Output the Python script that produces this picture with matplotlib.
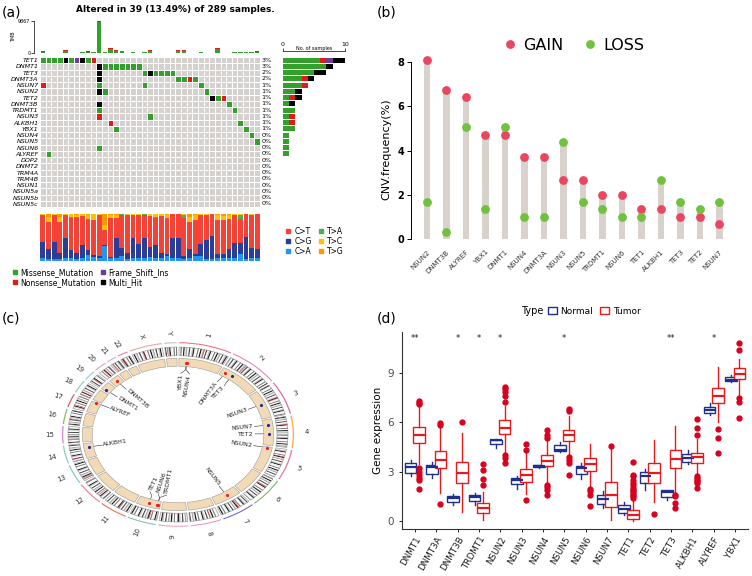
import math

import matplotlib

matplotlib.use("Agg")
import matplotlib.pyplot as plt
from matplotlib.colors import ListedColormap
from matplotlib.lines import Line2D
from matplotlib.patches import Patch, Wedge
import numpy as np

W, H = 752, 576

# ---------------- panel (a): oncoplot ----------------
onco_genes = ["TET1", "DNMT1", "TET3", "DNMT3A", "NSUN7", "NSUN2", "TET2", "DNMT3B",
              "TRDMT1", "NSUN3", "ALKBH1", "YBX1", "NSUN4", "NSUN5", "NSUN6", "ALYREF",
              "DOP2", "DNMT2", "TRM4A", "TRM4B", "NSUN1", "NSUN5a", "NSUN5b", "NSUN5c"]
# one char per sample: . none, M missense, N nonsense, F frame shift ins, H multi hit
onco_rows = {
    "TET1": "MMMMHMFHMN",
    "DNMT1": "." * 10 + "HMMMMMMM",
    "TET3": "." * 10 + "H" + "." * 7 + "MHMMMM",
    "DNMT3A": "." * 10 + "H" + "." * 13 + "MMNM",
    "NSUN7": "N" + "." * 9 + "M" + "." * 7 + "M" + "." * 9 + "M",
    "NSUN2": "." * 10 + "HM" + "." * 17 + "M",
    "TET2": "." * 30 + "HMN",
    "DNMT3B": "." * 10 + "H" + "." * 22 + "M",
    "TRDMT1": "." * 10 + "M" + "." * 23 + "M",
    "NSUN3": "." * 10 + "N" + "." * 8 + "M",
    "ALKBH1": "." * 12 + "N" + "." * 22 + "M",
    "YBX1": "." * 13 + "M" + "." * 22 + "M",
    "NSUN4": "." * 37 + "M",
    "NSUN5": "." * 38 + "M",
    "NSUN6": "." * 10 + "M",
    "ALYREF": ".M",
}
n_samples = 39
n_total = 289

tmb_mis = [420, 100, 100, 100, 620, 100, 100, 310, 420, 200, 9560, 200, 1240, 730, 730,
           100, 200, 100, 310, 730, 100, 100, 100, 100, 730, 730, 100, 100, 210, 100,
           100, 1250, 100, 100, 210, 310, 310, 310, 420]
tmb_non = [100, 0, 0, 0, 210, 0, 0, 0, 100, 0, 307, 0, 200, 100, 0, 0, 0, 0, 100, 100,
           0, 0, 0, 0, 100, 100, 0, 0, 0, 0, 0, 200, 0, 0, 0, 0, 0, 0, 100]

# Ti/Tv fractions (%) per sample
titv_labels = ["C>T", "C>G", "C>A", "T>A", "T>C", "T>G"]
titv_CA = [7, 5, 5, 5, 7, 6, 5, 7, 12, 9, 7, 31, 6, 6, 11, 5, 7, 7, 7, 9, 6, 6, 11, 6, 6,
           4, 7, 11, 11, 5, 4, 7, 7, 7, 7, 14, 5, 6, 6]
titv_CG = [33, 20, 36, 11, 43, 18, 13, 27, 11, 4, 4, 3, 3, 43, 16, 13, 43, 29, 42, 20, 27,
           12, 4, 43, 43, 6, 18, 4, 25, 40, 49, 7, 7, 18, 31, 25, 46, 21, 20]
titv_CT = [58, 58, 57, 67, 47, 67, 76, 61, 67, 75, 87, 31, 82, 43, 71, 80, 47, 62, 49, 66,
           58, 77, 76, 51, 50, 81, 58, 72, 62, 53, 47, 73, 73, 65, 60, 51, 49, 71, 74]
titv_TA = [0, 0, 0, 0, 0, 2, 0, 0, 0, 0, 0, 0, 0, 0, 2, 0, 0, 0, 2, 0, 2, 0, 0, 0, 0, 7,
           0, 0, 0, 0, 0, 0, 0, 0, 0, 7, 0, 0, 0]
titv_TC = [2, 11, 2, 11, 3, 7, 4, 5, 7, 11, 2, 11, 7, 6, 0, 2, 3, 2, 0, 5, 7, 5, 7, 0, 1,
           2, 11, 11, 2, 2, 0, 11, 9, 7, 2, 3, 0, 2, 0]
titv_TG = [0, 6, 0, 6, 0, 0, 2, 0, 3, 1, 0, 24, 2, 2, 0, 0, 0, 0, 0, 0, 0, 0, 2, 0, 0, 0,
           6, 2, 0, 0, 0, 2, 4, 3, 0, 0, 0, 0, 0]

# ---------------- panel (b): CNV frequency ----------------
cnv_genes = ["NSUN2", "DNMT3B", "ALYREF", "YBX1", "DNMT1", "NSUN4", "DNMT3A", "NSUN3",
             "NSUN5", "TRDMT1", "NSUN6", "TET1", "ALKBH1", "TET3", "TET2", "NSUN7"]
cnv_gain = [8.07, 6.74, 6.40, 4.71, 4.71, 3.70, 3.70, 2.69, 2.69, 2.02, 2.02, 1.35, 1.35,
            1.01, 1.01, 0.67]
cnv_loss = [1.68, 0.34, 5.05, 1.35, 5.05, 1.01, 1.01, 4.38, 1.68, 1.35, 1.01, 1.01, 2.69,
            1.68, 1.35, 1.68]

# ---------------- panel (c): circos ----------------
chrom_names = [str(i) for i in range(1, 23)] + ["X", "Y"]
chrom_len = [249, 243, 198, 191, 181, 171, 159, 146, 141, 136, 135, 134, 115, 107, 103,
             90, 81, 78, 59, 63, 48, 51, 155, 59]
chrom_cen = [125, 93, 91, 50, 48, 60, 60, 45, 49, 40, 53, 35, 17, 17, 19, 36, 24, 17, 26,
             28, 13, 14, 60, 12]
chrom_col = ["#E8747C", "#E88CA5", "#D96BA8", "#F5B041", "#E17B9C", "#7DBE6A", "#6C6CC9",
             "#E89AB0", "#F2A3B7", "#76C3A8", "#E8734D", "#E8828C", "#7FC8C8", "#8BCFB8",
             "#D38CC9", "#86C06C", "#E06070", "#8ED0C0", "#9AC5E0", "#E5A0C0", "#C8B0E0",
             "#E88090", "#E8A0A8", "#C0C0C0"]
band_shades = ["#FFFFFF", "#7F7F7F", "#FFFFFF", "#1A1A1A", "#E3E3E3", "#A6A6A6",
               "#FFFFFF", "#4D4D4D", "#FFFFFF", "#C8C8C8", "#262626", "#F0F0F0"]
circ_genes = ["YBX1", "NSUN4", "DNMT3A", "TET3", "NSUN3", "NSUN7", "TET2", "NSUN2",
              "NSUN5", "TRDMT1", "NSUN6", "TET1", "ALKBH1", "ALYREF", "DNMT1", "DNMT3B"]
circ_chr = ["1", "1", "2", "2", "3", "4", "4", "5", "7", "10", "10", "10", "14", "17",
            "19", "20"]
circ_mb = [43.1, 46.8, 25.5, 74.3, 93.8, 40.8, 106.1, 6.6, 72.7, 17.2, 18.1, 70.3, 78.2,
           79.8, 10.2, 31.4]

# ---------------- panel (d): expression boxplots ----------------
expr_genes = ["DNMT1", "DNMT3A", "DNMT3B", "TRDMT1", "NSUN2", "NSUN3", "NSUN4", "NSUN5",
              "NSUN6", "NSUN7", "TET1", "TET2", "TET3", "ALKBH1", "ALYREF", "YBX1"]
# (median, q1, q3, whisker low, whisker high)
normal_stats = [(3.27, 2.92, 3.49, 2.72, 3.69), (3.29, 2.84, 3.39, 2.58, 3.59),
                (1.37, 1.17, 1.51, 0.97, 1.63), (1.47, 1.23, 1.57, 0.97, 1.67),
                (4.90, 4.66, 4.94, 4.44, 4.96), (2.48, 2.22, 2.58, 1.92, 2.72),
                (3.33, 3.25, 3.39, 3.22, 3.42), (4.29, 4.23, 4.60, 4.20, 4.80),
                (3.19, 2.85, 3.33, 2.55, 3.54), (1.33, 1.03, 1.58, 0.77, 1.82),
                (0.73, 0.50, 0.97, 0.36, 1.17), (2.72, 2.28, 2.98, 1.88, 3.18),
                (1.73, 1.47, 1.85, 1.27, 1.90), (3.85, 3.59, 4.09, 3.45, 4.33),
                (6.77, 6.57, 6.92, 6.47, 7.16), (8.55, 8.51, 8.75, 8.47, 8.91)]
tumor_stats = [(5.24, 4.76, 5.70, 3.45, 7.00), (3.69, 3.19, 4.23, 1.71, 5.75),
               (2.92, 2.32, 3.59, 0.56, 5.34), (0.77, 0.46, 1.11, 0.06, 1.75),
               (5.67, 5.30, 6.11, 4.19, 7.00), (2.78, 2.34, 3.13, 1.63, 4.13),
               (3.67, 3.33, 3.99, 2.38, 4.95), (5.20, 4.84, 5.54, 3.99, 6.41),
               (3.45, 3.05, 3.80, 2.00, 4.70), (1.58, 0.87, 2.34, 0.06, 4.40),
               (0.36, 0.12, 0.67, 0.00, 1.27), (2.94, 2.32, 3.49, 1.17, 4.94),
               (3.79, 3.22, 4.29, 1.67, 5.79), (3.89, 3.55, 4.15, 2.84, 5.00),
               (7.62, 7.18, 8.08, 6.00, 9.38), (8.97, 8.63, 9.29, 7.62, 9.85)]
tumor_fliers = [
    [7.1, 7.2, 7.3, 3.2, 3.0, 2.8, 2.6, 2.5, 1.95],
    [5.85, 5.95, 1.03],
    [5.99],
    [3.43, 3.08, 2.52, 2.18],
    [7.25, 7.6, 7.85, 8.0, 8.17, 4.0, 3.8, 3.5],
    [4.3, 4.7, 1.27],
    [5.05, 5.2, 5.55, 2.2, 2.05, 1.9, 1.6],
    [6.7, 6.8, 3.9, 3.7, 3.5, 2.8],
    [1.95, 1.8, 1.6, 0.9],
    [4.58],
    [1.4, 1.5, 1.6, 1.7, 1.8, 1.9, 2.0, 2.2, 2.3, 2.5, 2.7, 2.8, 3.6],
    [0.4],
    [1.6, 1.5, 1.1, 0.75],
    [5.2, 5.65, 6.19, 2.75, 2.6, 2.5, 2.4, 2.3, 1.97],
    [5.6, 5.06, 4.15],
    [10.4, 10.85, 7.5, 7.25, 6.27],
]
signif = ["**", "", "*", "*", "*", "", "", "*", "", "", "", "", "**", "", "*", ""]

GREEN, RED, PURPLE, BLACK, BG = "#33A02C", "#E31A1C", "#6A3D9A", "#000000", "#D4D1CF"
TITV_COL = ["#F44336", "#2B3D97", "#2196F3", "#4CAF50", "#FFC107", "#FF9800"]
GAIN_COL, LOSS_COL = "#E8475F", "#72C13E"
NORMAL_COL, TUMOR_COL = "#1F2F8F", "#E41A1C"

fig = plt.figure(figsize=(W / 100, H / 100), dpi=100)


def box(l, t, r, b):
    return fig.add_axes([l / W, 1 - b / H, (r - l) / W, (b - t) / H])


for lab, x, y in [("(a)", 2, 12), ("(b)", 377, 12), ("(c)", 2, 318), ("(d)", 377, 318)]:
    fig.text(x / W, 1 - y / H, lab, fontsize=10, va="center", ha="left")

# ---- (a) ----
fig.text(175 / W, 1 - 10 / H, "Altered in 39 (13.49%) of 289 samples.", fontsize=6.5,
         fontweight="bold", ha="center", va="center")

codes = {".": 0, "M": 1, "N": 2, "F": 3, "H": 4}
mat = np.zeros((len(onco_genes), n_samples))
for i, g in enumerate(onco_genes):
    s = onco_rows.get(g, "").ljust(n_samples, ".")
    mat[i] = [codes[c] for c in s]

ax_t = box(40, 21, 260, 53)
xs = np.arange(n_samples) + 0.5
ax_t.bar(xs, tmb_mis, width=0.8, color=GREEN)
ax_t.bar(xs, tmb_non, width=0.8, bottom=tmb_mis, color=RED)
ax_t.set_xlim(0, n_samples)
ax_t.set_ylim(0, 9867)
for sp in ["top", "right", "bottom"]:
    ax_t.spines[sp].set_visible(False)
ax_t.spines["left"].set_position(("outward", 4))
ax_t.spines["left"].set_linewidth(0.5)
ax_t.set_yticks([0, 9867])
ax_t.tick_params(axis="y", labelsize=3.5, length=2, width=0.5, pad=1)
ax_t.set_xticks([])
ax_t.set_ylabel("TMB", fontsize=3.5, labelpad=1)

ax_g = box(40, 57, 260, 207)
ax_g.pcolormesh(np.arange(n_samples + 1), np.arange(len(onco_genes) + 1), mat,
                cmap=ListedColormap([BG, GREEN, RED, PURPLE, BLACK]), vmin=-0.5, vmax=4.5,
                edgecolors="white", linewidth=0.7)
ax_g.set_xlim(0, n_samples)
ax_g.set_ylim(len(onco_genes), 0)
ax_g.set_xticks([])
ax_g.set_yticks(np.arange(len(onco_genes)) + 0.5)
ax_g.set_yticklabels(onco_genes, fontsize=4.6, fontstyle="italic")
ax_g.tick_params(length=0, pad=1)
for sp in ax_g.spines.values():
    sp.set_visible(False)

counts = {k: [] for k in "MNFH"}
for g in onco_genes:
    s = onco_rows.get(g, "")
    for k in "MNFH":
        counts[k].append(s.count(k))
    n_alt = sum(c != "." for c in s)
    ax_g.text(n_samples + 0.3, onco_genes.index(g) + 0.5, f"{round(100 * n_alt / n_total)}%",
              fontsize=4.6, va="center", ha="left")

ax_r = box(283, 57, 345, 207)
left = np.zeros(len(onco_genes))
ys = np.arange(len(onco_genes)) + 0.5
for k, c in zip("MNFH", [GREEN, RED, PURPLE, BLACK]):
    ax_r.barh(ys, counts[k], left=left, height=0.8, color=c)
    left += np.array(counts[k])
ax_r.set_ylim(len(onco_genes), 0)
ax_r.set_xlim(0, 10)
for sp in ["bottom", "left", "right"]:
    ax_r.spines[sp].set_visible(False)
ax_r.spines["top"].set_position(("outward", 4))
ax_r.spines["top"].set_linewidth(0.5)
ax_r.xaxis.tick_top()
ax_r.set_xticks([0, 10])
ax_r.tick_params(axis="x", labelsize=4.5, length=2, width=0.5, pad=1)
ax_r.set_yticks([])
ax_r.text(5, -0.9, "No. of samples", fontsize=3.5, ha="center", va="bottom",
          transform=ax_r.transData, clip_on=False)

ax_v = box(40, 214, 260, 261)
bottom = np.zeros(n_samples)
titv_order = [("C>A", titv_CA), ("C>G", titv_CG), ("C>T", titv_CT), ("T>A", titv_TA),
              ("T>C", titv_TC), ("T>G", titv_TG)]
for name, vals in titv_order:
    ax_v.bar(xs, vals, width=0.85, bottom=bottom, color=TITV_COL[titv_labels.index(name)])
    bottom += np.array(vals)
ax_v.set_xlim(0, n_samples)
ax_v.set_ylim(0, 100)
ax_v.axis("off")

h_titv = [Line2D([], [], ls="", marker="s", ms=3, color=c) for c in TITV_COL]
fig.legend(h_titv, titv_labels, ncol=2, loc="upper left", bbox_to_anchor=(282 / W, 1 - 223 / H),
           frameon=False, fontsize=5.5, handlelength=0.6, handletextpad=0.5,
           columnspacing=0.9, labelspacing=0.15, borderpad=0)
h_var = [Line2D([], [], ls="", marker="s", ms=2.5, color=c) for c in [GREEN, RED, PURPLE, BLACK]]
fig.legend(h_var, ["Missense_Mutation", "Nonsense_Mutation", "Frame_Shift_Ins", "Multi_Hit"],
           ncol=2, loc="upper left", bbox_to_anchor=(9 / W, 1 - 264 / H), frameon=False,
           fontsize=5.5, handlelength=0.6, handletextpad=0.4, columnspacing=0.6,
           labelspacing=0.15, borderpad=0)

# ---- (b) ----
ax_b = box(411, 53, 735, 246)
xb = np.arange(1, len(cnv_genes) + 1)
ax_b.bar(xb, np.maximum(cnv_gain, cnv_loss), width=0.34, color="#D9D1CC")
ax_b.plot(xb, cnv_gain, "o", ms=5.3, color=GAIN_COL, label="GAIN")
ax_b.plot(xb, cnv_loss, "o", ms=5.3, color=LOSS_COL, label="LOSS")
ax_b.set_xlim(0.18, 16.8)
ax_b.set_ylim(-0.3, 8.4)
for sp in ["top", "right", "bottom"]:
    ax_b.spines[sp].set_visible(False)
ax_b.spines["left"].set_bounds(0, 8)
ax_b.spines["left"].set_linewidth(0.7)
ax_b.set_yticks([0, 2, 4, 6, 8])
ax_b.tick_params(axis="y", labelsize=7, length=3, width=0.7, pad=2)
for t in ax_b.get_yticklabels():
    t.set_fontweight("bold")
ax_b.set_xticks(xb)
ax_b.set_xticklabels(cnv_genes, rotation=45, ha="right", rotation_mode="anchor",
                     fontsize=5, color="#333333")
ax_b.tick_params(axis="x", length=0, pad=2)
ax_b.set_ylabel("CNV.frequency(%)", fontsize=8, labelpad=4)
ax_b.legend(loc="center", bbox_to_anchor=(0.5, 1 + 8 / 193), ncol=2, frameon=False,
            fontsize=11.5, handletextpad=0.3, columnspacing=1.2, markerscale=1.0,
            handlelength=1.0)

# ---- (c) ----
rx, ry, cx, cy = 110, 87.5, 178, 434.5
ax_c = box(0, 320, 376, 576)
ax_c.set_xlim(-cx / rx, (376 - cx) / rx)
ax_c.set_ylim(-(576 - cy) / ry, (cy - 320) / ry)
ax_c.axis("off")

gap = 1.2
dpm = (360 - gap * len(chrom_len)) / sum(chrom_len)
starts = []
phi = 0.6
for L in chrom_len:
    starts.append(phi)
    phi += L * dpm + gap


def wedge(r, p1, p2, width, **kw):
    return Wedge((0, 0), r, 90 - p2, 90 - p1, width=width, **kw)


def screen_angle(p):
    return math.degrees(math.atan2(ry * math.cos(math.radians(p)), rx * math.sin(math.radians(p))))


def pos(r, p):
    return r * math.sin(math.radians(p)), r * math.cos(math.radians(p))


band_mb = 7
for ci, (name, L, cen, col, s0) in enumerate(zip(chrom_names, chrom_len, chrom_cen, chrom_col, starts)):
    nb = int(math.ceil(L / band_mb))
    for k in range(nb):
        a = s0 + k * band_mb * dpm
        b = s0 + min((k + 1) * band_mb, L) * dpm
        ax_c.add_patch(wedge(1.0, a, b, 0.10, facecolor=band_shades[(k + ci * 5) % len(band_shades)],
                             edgecolor="none"))
    ax_c.add_patch(wedge(1.0, s0 + (cen - 1.5) * dpm, s0 + (cen + 1.5) * dpm, 0.10,
                         facecolor="#E8202A", edgecolor="none"))
    e = s0 + L * dpm
    ax_c.add_patch(wedge(1.0, s0, e, 0.10, facecolor="none", edgecolor="#8C8C8C", lw=0.4))
    ax_c.add_patch(wedge(1.055, s0, e, 0.012, facecolor=col, edgecolor="none"))
    ax_c.add_patch(wedge(0.87, s0, e, 0.09, facecolor="#F3DAB6", edgecolor="#9A9A9A", lw=0.4))
    mid = (s0 + e) / 2
    x, y = pos(1.17, mid)
    sa = screen_angle(mid)
    rot = sa if math.sin(math.radians(mid)) >= 0 else sa - 180
    ax_c.text(x, y, name, fontsize=5, ha="center", va="center", rotation=rot,
              rotation_mode="anchor", color="#333333")

gene_phi = [starts[chrom_names.index(c)] + mb * dpm for c, mb in zip(circ_chr, circ_mb)]
order = np.argsort(gene_phi)
lab_phi = np.array(gene_phi, dtype=float)[order]
min_gap = 6.5
for _ in range(200):
    for i in range(1, len(lab_phi)):
        d = lab_phi[i] - lab_phi[i - 1]
        if d < min_gap:
            lab_phi[i - 1] -= (min_gap - d) / 2
            lab_phi[i] += (min_gap - d) / 2
label_phi = dict(zip(order, lab_phi))

for i, g in enumerate(circ_genes):
    p = gene_phi[i]
    j = cnv_genes.index(g)
    dot_col = "#E8202A" if cnv_gain[j] >= cnv_loss[j] else "#1F2FA0"
    x, y = pos(0.825, p)
    ax_c.plot(x, y, "o", ms=2.3, color=dot_col, mec="none")
    lp = label_phi[i]
    x1, y1 = pos(0.775, p)
    x2, y2 = pos(0.74, p)
    x3, y3 = pos(0.70, lp)
    ax_c.plot([x1, x2, x3], [y1, y2, y3], color="#333333", lw=0.4)
    x4, y4 = pos(0.69, lp)
    sa = screen_angle(lp)
    if math.sin(math.radians(lp)) >= 0:
        ax_c.text(x4, y4, g, fontsize=4.5, ha="right", va="center", rotation=sa,
                  rotation_mode="anchor", color="#222222")
    else:
        ax_c.text(x4, y4, g, fontsize=4.5, ha="left", va="center", rotation=sa - 180,
                  rotation_mode="anchor", color="#222222")

# ---- (d) ----
ax_d = box(402, 332, 748, 529)
xd = np.arange(1, len(expr_genes) + 1)


def make_stats(stats, fliers=None):
    out = []
    for k, (med, q1, q3, lo, hi) in enumerate(stats):
        out.append(dict(med=med, q1=q1, q3=q3, whislo=lo, whishi=hi,
                        fliers=fliers[k] if fliers else []))
    return out


for stats, fl, off, col in [(normal_stats, None, -0.2, NORMAL_COL),
                            (tumor_stats, tumor_fliers, 0.2, TUMOR_COL)]:
    ax_d.bxp(make_stats(stats, fl), positions=xd + off, widths=0.55, patch_artist=True,
             showcaps=False,
             boxprops=dict(facecolor="white", edgecolor=col, linewidth=1.0),
             medianprops=dict(color=col, linewidth=1.6),
             whiskerprops=dict(color=col, linewidth=1.0),
             flierprops=dict(marker="o", markerfacecolor="#D7001E", markeredgecolor="#D7001E",
                             markersize=3.5))
for x, s in zip(xd, signif):
    if s:
        ax_d.text(x, 11.1, s, fontsize=6, ha="center", va="center", color="#222222")
ax_d.set_xlim(0.4, 16.6)
ax_d.set_ylim(-0.5, 11.5)
for sp in ["top", "right"]:
    ax_d.spines[sp].set_visible(False)
for sp in ["left", "bottom"]:
    ax_d.spines[sp].set_linewidth(0.8)
    ax_d.spines[sp].set_color("#333333")
ax_d.set_yticks([0, 3, 6, 9])
ax_d.tick_params(axis="y", labelsize=7.5, labelcolor="#4D4D4D", length=2.5, width=0.6)
ax_d.set_xticks(xd)
ax_d.set_xticklabels(expr_genes, rotation=60, ha="right", rotation_mode="anchor",
                     fontsize=6.3, color="#1A1A1A")
ax_d.tick_params(axis="x", length=2.5, width=0.6, pad=2)
ax_d.set_ylabel("Gene expression", fontsize=7.5, labelpad=3)

fig.text(521 / W, 1 - 311 / H, "Type", fontsize=7, ha="left", va="center")
h_type = [Patch(facecolor="white", edgecolor=NORMAL_COL, lw=1.0),
          Patch(facecolor="white", edgecolor=TUMOR_COL, lw=1.0)]
fig.legend(h_type, ["Normal", "Tumor"], ncol=2, loc="center left",
           bbox_to_anchor=(543 / W, 1 - 311 / H), frameon=False, fontsize=6.5,
           handlelength=1.0, handleheight=0.9, handletextpad=0.4, columnspacing=0.8,
           borderpad=0)

fig.savefig("out.png", dpi=100)
